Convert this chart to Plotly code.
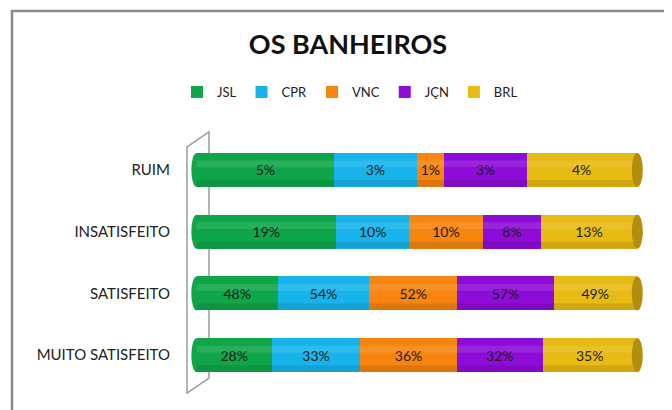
import plotly.graph_objects as go

categories = ["RUIM", "INSATISFEITO", "SATISFEITO", "MUITO SATISFEITO"]
series_names = ["JSL", "CPR", "VNC", "JÇN", "BRL"]
jsl = [5, 19, 48, 28]
cpr = [3, 10, 54, 33]
vnc = [1, 10, 52, 36]
jcn = [3, 8, 57, 32]
brl = [4, 13, 49, 35]
series_values = [jsl, cpr, vnc, jcn, brl]
colors = ["#0FA64A", "#17B4EC", "#F7850F", "#8E0CD8", "#E8BA14"]
cap_color = "#B38E0C"

FONT = "Lato"

# the page body adds an 8px offset; work in reference pixels and shift
OFF = 8
W, H = 672 - OFF, 410 - OFF

fig = go.Figure()
for name, vals, col in zip(series_names, series_values, colors):
    fig.add_trace(go.Bar(
        y=categories, x=vals, name=name, orientation="h",
        marker=dict(color=col, line=dict(width=0)),
        text=[f"{v}%" for v in vals], textposition="inside",
        insidetextanchor="middle", textangle=0,
        textfont=dict(family=FONT, size=14, color="#1a1a1a"),
        constraintext="none",
        hoverinfo="skip",
    ))

# plot area in reference pixels: x 190..645, y 139..386
L, R, T, B = 190, 645, 139, 386
def px(x):
    return (x - L) / (R - L)
def py(y):
    return (B - y) / (B - T)

shapes = []
half = 0.275
for i, cat in enumerate(categories):
    shapes.append(dict(type="circle", xref="x", yref="y", x0=-1.2, x1=1.2,
                       y0=i - half, y1=i + half, fillcolor=colors[0],
                       line=dict(width=0), layer="below"))
    shapes.append(dict(type="rect", xref="x", yref="y", x0=0, x1=100,
                       y0=i - half * 0.55, y1=i - half * 0.15,
                       fillcolor="white", opacity=0.10, line=dict(width=0), layer="above"))
    shapes.append(dict(type="rect", xref="x", yref="y", x0=0, x1=100,
                       y0=i + half * 0.6, y1=i + half,
                       fillcolor="black", opacity=0.10, line=dict(width=0), layer="above"))
    shapes.append(dict(type="circle", xref="x", yref="y", x0=98.9, x1=101.4,
                       y0=i - half, y1=i + half, fillcolor=cap_color,
                       line=dict(width=0), layer="above"))

xl, xr = px(187), px(209)
shapes.append(dict(type="path", xref="paper", yref="paper",
                   path=f"M {xl},{py(393)} L {xl},{py(147)} L {xr},{py(132)} L {xr},{py(378)} Z",
                   line=dict(color="#9a9a9a", width=1.5), layer="below"))
shapes.append(dict(type="path", xref="paper", yref="paper",
                   path=f"M {px(12)},{py(420)} L {px(12)},{py(11)} L {px(690)},{py(11)}",
                   line=dict(color="#8a8a8a", width=2.5), layer="above"))

fig.update_layout(
    width=W, height=H,
    barmode="stack", barnorm="percent", bargap=0.45,
    plot_bgcolor="white", paper_bgcolor="white",
    margin=dict(l=L - OFF, r=672 - R, t=T - OFF, b=410 - B),
    title=dict(text="<b>OS BANHEIROS</b>", x=(348 - OFF) / W, xref="container", xanchor="center",
               y=1 - (45 - OFF) / H, yref="container", yanchor="middle",
               font=dict(family=FONT, size=27, color="#111111")),
    legend=dict(orientation="h", x=(350 - OFF) / W, xref="container", xanchor="center",
                y=1 - (92 - OFF) / H, yref="container", yanchor="middle",
                font=dict(family=FONT, size=13, color="#222222"),
                traceorder="normal", itemwidth=30, bgcolor="rgba(0,0,0,0)"),
    xaxis=dict(range=[-1.5, 101.9], visible=False, fixedrange=True),
    yaxis=dict(range=[3.5, -0.5], showgrid=False, zeroline=False, showline=False,
               ticks="", ticklabelstandoff=19,
               tickfont=dict(family=FONT, size=15, color="#222222")),
    shapes=shapes,
    showlegend=True,
)

fig.write_html("out.html")
